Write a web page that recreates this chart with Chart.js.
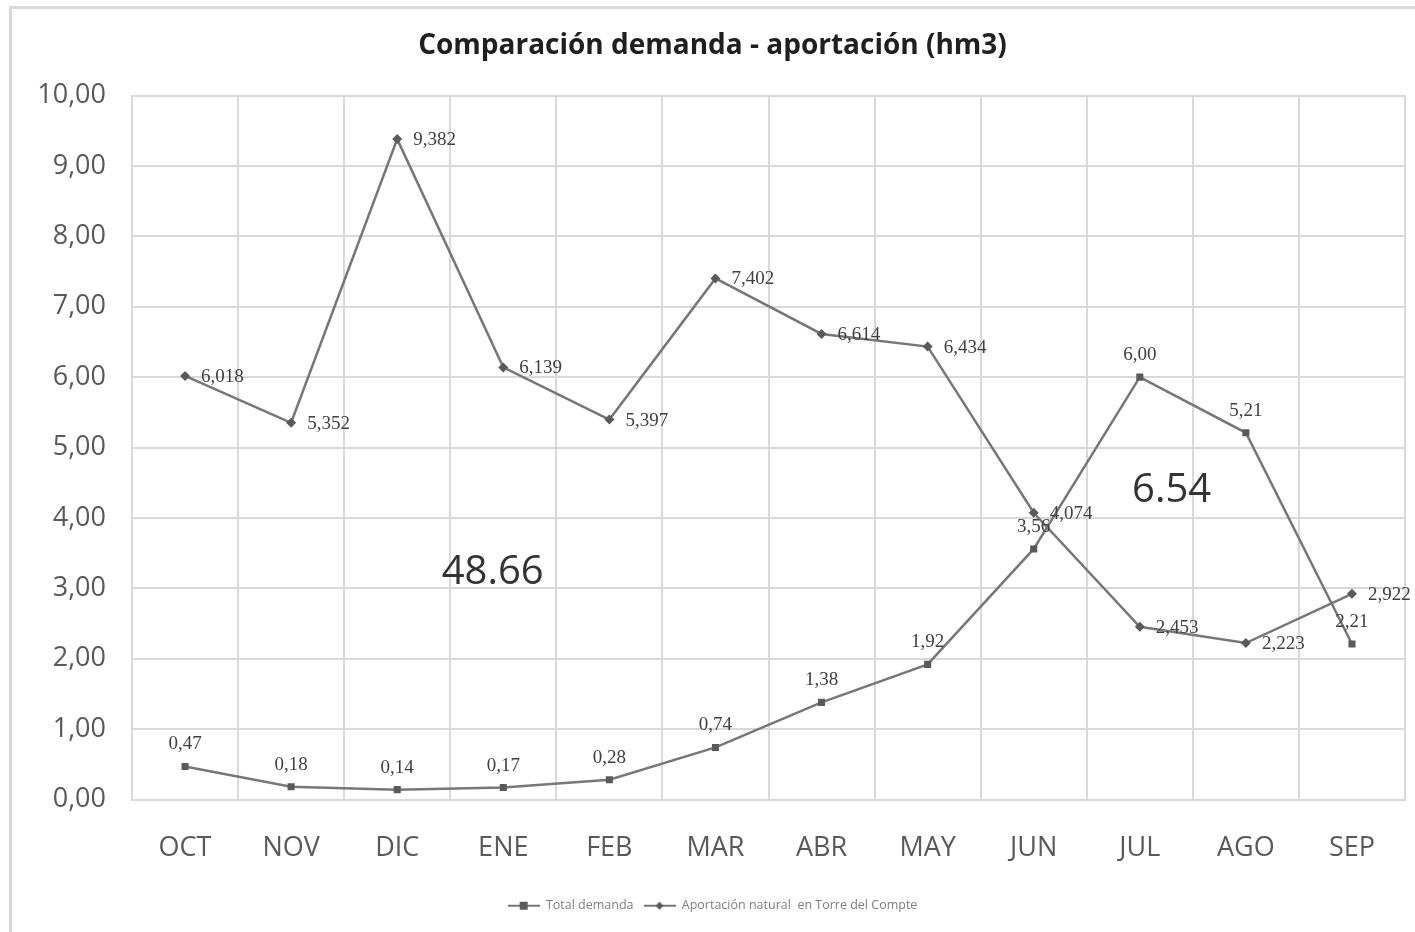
<!DOCTYPE html>
<html>
<head>
<meta charset="utf-8">
<script src="https://cdn.jsdelivr.net/npm/chart.js@4.4.1/dist/chart.umd.min.js"></script>
<style>
  html, body { margin: 0; padding: 0; background: #ffffff; }
  #wrap { width: 1415px; height: 932px; position: relative; }
</style>
</head>
<body>
<div id="wrap"><canvas id="c" width="1415" height="932"></canvas></div>
<script>
// ---- Data ----
const categories = ['OCT', 'NOV', 'DIC', 'ENE', 'FEB', 'MAR', 'ABR', 'MAY', 'JUN', 'JUL', 'AGO', 'SEP'];
const totalDemanda = [0.47, 0.18, 0.14, 0.17, 0.28, 0.74, 1.38, 1.92, 3.56, 6.00, 5.21, 2.21];
const aportacionNatural = [6.018, 5.352, 9.382, 6.139, 5.397, 7.402, 6.614, 6.434, 4.074, 2.453, 2.223, 2.922];
const seriesNames = ['Total demanda', 'Aportación natural  en Torre del Compte'];
const chartTitle = 'Comparación demanda - aportación (hm3)';
const annotationTexts = ['48.66', '6.54'];

// ---- Styles ----
const lineColor = '#777777';
const markerColor = '#5a5a5a';
const gridColor = '#d9d9d9';
const tickColor = '#595959';

const annotationPlacement = [
  { text: annotationTexts[0], x: 2.9, y: 3.22 },
  { text: annotationTexts[1], x: 9.3, y: 4.39 }
];

function fmt(v, d) { return v.toFixed(d).replace('.', ','); }

function legendIcon(style) {
  const c = document.createElement('canvas');
  c.width = 32; c.height = 10;
  const g = c.getContext('2d');
  g.strokeStyle = lineColor; g.lineWidth = 2;
  g.beginPath(); g.moveTo(0, 5); g.lineTo(32, 5); g.stroke();
  g.fillStyle = markerColor;
  if (style === 'rect') { g.fillRect(12, 1, 8, 8); }
  else { g.beginPath(); g.moveTo(16, 1); g.lineTo(20, 5); g.lineTo(16, 9); g.lineTo(12, 5); g.closePath(); g.fill(); }
  return c;
}

const borderPlugin = {
  id: 'outerBorder',
  beforeDraw(chart) {
    const ctx = chart.ctx;
    ctx.save();
    ctx.fillStyle = '#ffffff';
    ctx.fillRect(0, 0, chart.width, chart.height);
    ctx.strokeStyle = '#d9d9d9';
    ctx.lineWidth = 3;
    ctx.strokeRect(10.5, 7.5, chart.width + 10, chart.height + 10);
    ctx.restore();
  }
};

const labelPlugin = {
  id: 'valueLabels',
  afterDatasetsDraw(chart) {
    const ctx = chart.ctx;
    ctx.save();
    ctx.font = '19px "Liberation Serif", "DejaVu Serif", serif';
    ctx.fillStyle = '#404040';
    chart.data.datasets.forEach((ds, i) => {
      const meta = chart.getDatasetMeta(i);
      meta.data.forEach((pt, j) => {
        const v = ds.data[j];
        if (ds.labelMode === 'above') {
          ctx.textAlign = 'center'; ctx.textBaseline = 'middle';
          ctx.fillText(fmt(v, 2), pt.x, pt.y - 22);
        } else {
          ctx.textAlign = 'left'; ctx.textBaseline = 'middle';
          ctx.fillText(fmt(v, 3), pt.x + 16, pt.y + 1);
        }
      });
    });
    // annotations
    ctx.font = '40px "Open Sans", sans-serif';
    ctx.fillStyle = '#333333';
    ctx.textAlign = 'center'; ctx.textBaseline = 'middle';
    const xs = chart.scales.x, ys = chart.scales.y;
    annotationPlacement.forEach(a => {
      ctx.fillText(a.text, xs.getPixelForValue(a.x), ys.getPixelForValue(a.y));
    });
    ctx.restore();
  }
};

new Chart(document.getElementById('c'), {
  type: 'line',
  data: {
    labels: categories,
    datasets: [
      {
        label: seriesNames[0],
        data: totalDemanda,
        borderColor: lineColor,
        backgroundColor: markerColor,
        borderWidth: 2.5,
        pointStyle: 'rect',
        pointRadius: 5,
        pointBackgroundColor: markerColor,
        pointBorderColor: markerColor,
        pointBorderWidth: 0,
        tension: 0,
        labelMode: 'above',
        legendIcon: legendIcon('rect')
      },
      {
        label: seriesNames[1],
        data: aportacionNatural,
        borderColor: lineColor,
        backgroundColor: markerColor,
        borderWidth: 2.5,
        pointStyle: 'rectRot',
        pointRadius: 5,
        pointBackgroundColor: markerColor,
        pointBorderColor: markerColor,
        pointBorderWidth: 0,
        tension: 0,
        labelMode: 'right',
        legendIcon: legendIcon('diamond')
      }
    ]
  },
  options: {
    responsive: false,
    animation: false,
    events: [],
    layout: { padding: { left: 20, right: 10, top: 0, bottom: 10 } },
    plugins: {
      title: {
        display: true,
        text: chartTitle,
        font: { family: '"Open Sans", sans-serif', size: 28, weight: 'bold' },
        color: '#1f1f1f',
        padding: { top: 29, bottom: 33 }
      },
      legend: {
        position: 'bottom',
        labels: {
          usePointStyle: true,
          pointStyleWidth: 32,
          padding: 10,
          color: '#7f7f7f',
          font: { family: '"Open Sans", sans-serif', size: 12.5 },
          generateLabels(chart) {
            return chart.data.datasets.map((ds, i) => ({
              text: ds.label,
              pointStyle: ds.legendIcon,
              fillStyle: markerColor,
              strokeStyle: markerColor,
              lineWidth: 0,
              fontColor: '#7f7f7f',
              hidden: false,
              datasetIndex: i
            }));
          }
        }
      },
      tooltip: { enabled: false }
    },
    scales: {
      x: {
        offset: true,
        grid: { offset: true, color: gridColor, lineWidth: 2, drawTicks: false },
        border: { color: gridColor, width: 2 },
        ticks: { color: tickColor, padding: 33, font: { family: '"Open Sans", sans-serif', size: 27 } },
        afterFit(scale) { scale.height = 90; }
      },
      y: {
        min: 0,
        max: 10,
        grid: { color: gridColor, lineWidth: 2, drawTicks: false },
        border: { color: gridColor, width: 2 },
        ticks: {
          stepSize: 1,
          color: tickColor,
          padding: 26,
          font: { family: '"Open Sans", sans-serif', size: 27 },
          callback: (v) => fmt(v, 2)
        },
        afterFit(scale) { scale.width = 112; }
      }
    }
  },
  plugins: [borderPlugin, labelPlugin]
});
</script>
</body>
</html>
